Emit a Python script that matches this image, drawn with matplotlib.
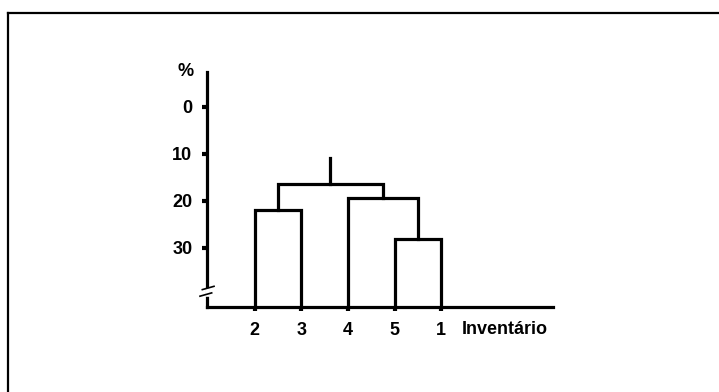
import numpy as np
import matplotlib.pyplot as plt
from matplotlib.lines import Line2D

# leaf order along the x axis
leaves = ["2", "3", "4", "5", "1"]
# merges: (left node, right node, height in %)  nodes 0-4 are leaves, 5.. are clusters
merges = [(0, 1, 22.0), (3, 4, 28.2), (2, 6, 19.4), (5, 7, 16.5)]
root_top = 10.8
yticks = [0, 10, 20, 30]

W, H = 719, 392
plt.rcParams['font.family'] = ['Liberation Sans', 'DejaVu Sans']

fig = plt.figure(figsize=(W / 100, H / 100), dpi=100)
# axes placed in pixel terms: left 207, right 553, top 72, bottom 307
ax = fig.add_axes([207 / W, 1 - 307 / H, (553 - 207) / W, (307 - 72) / H])
x0 = -1.017
ax.set_xlim(x0, 6.39)
ax.set_ylim(42.6, -7.4)

lw = 2.3
pos = {i: float(i) for i in range(len(leaves))}
hgt = {i: 42.6 for i in range(len(leaves))}
node = len(leaves)
for a, b, h in merges:
    xa, xb = pos[a], pos[b]
    ax.plot([xa, xa, xb, xb], [hgt[a], h, h, hgt[b]], color='black', lw=lw,
            solid_joinstyle='miter', clip_on=False)
    pos[node] = (xa + xb) / 2
    hgt[node] = h
    node += 1
top = node - 1
ax.plot([pos[top], pos[top]], [hgt[top], root_top], color='black', lw=lw)

for s in ['top', 'right']:
    ax.spines[s].set_visible(False)
for s in ['left', 'bottom']:
    ax.spines[s].set_linewidth(lw)

fs = 13
ax.set_yticks(yticks)
ax.set_yticklabels([str(v) for v in yticks], fontsize=fs, fontweight='bold')
ax.set_xticks(range(len(leaves)))
ax.set_xticklabels(leaves, fontsize=fs, fontweight='bold')
ax.tick_params(axis='y', length=3.5, width=3, pad=7)
ax.tick_params(axis='x', length=3, width=3, pad=8)

# axis break on y
ax.plot([x0, x0], [38.9, 39.8], color='white', lw=lw + 1, clip_on=False, zorder=5)
ax.plot([x0 - 0.1, x0 + 0.15], [38.9, 38.2], color='black', lw=1.2, clip_on=False, zorder=6)
ax.plot([x0 - 0.15, x0 + 0.1], [40.3, 39.6], color='black', lw=1.2, clip_on=False, zorder=6)

fig.text(186 / W, 1 - 71 / H, '%', fontsize=fs, fontweight='bold', ha='center', va='center')
fig.text(462 / W, 1 - 329 / H, 'Inventário', fontsize=fs, fontweight='bold', ha='left', va='center')

# frame (only top and left edges visible)
fig.add_artist(Line2D([8 / W, 1], [1 - 13 / H, 1 - 13 / H], color='black', lw=1.6))
fig.add_artist(Line2D([8 / W, 8 / W], [0, 1 - 13 / H], color='black', lw=1.6))

fig.savefig('out.png', dpi=100)
